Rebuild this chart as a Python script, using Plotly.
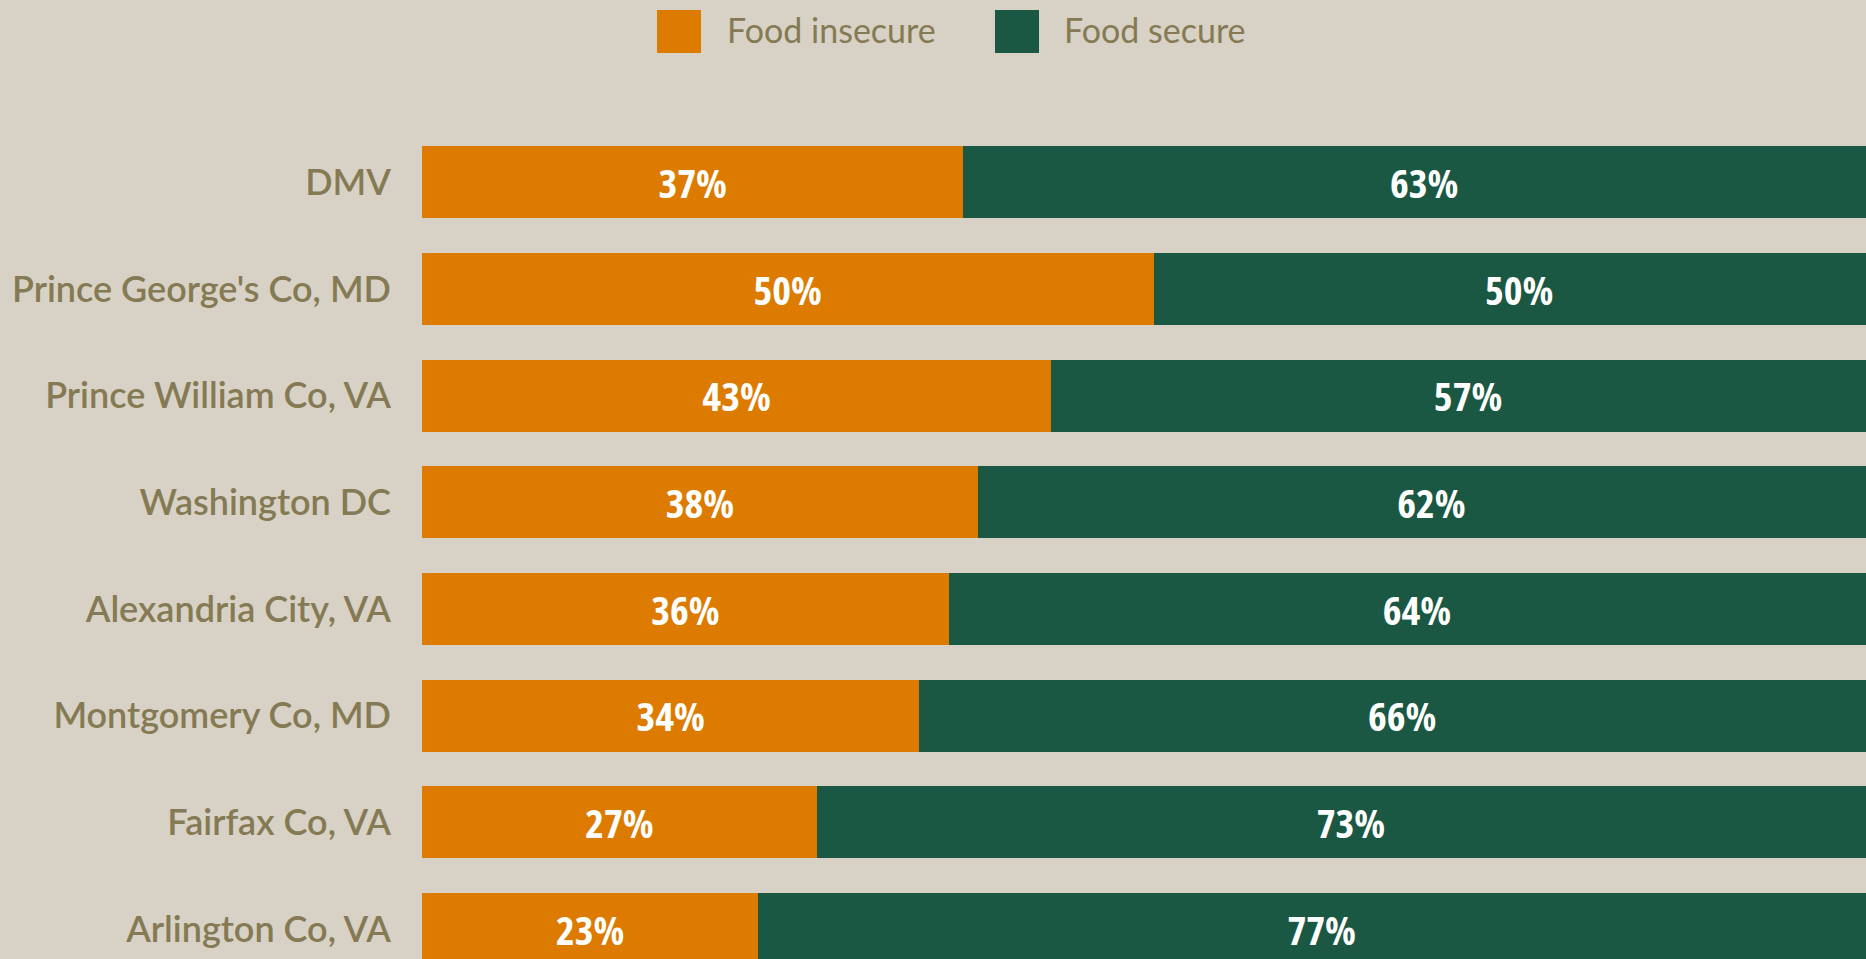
import plotly.graph_objects as go

regions = ["DMV", "Prince George's Co, MD", "Prince William Co, VA", "Washington DC",
           "Alexandria City, VA", "Montgomery Co, MD", "Fairfax Co, VA", "Arlington Co, VA"]
food_insecure = [37, 50, 43, 38, 36, 34, 27, 23]
food_secure = [63, 50, 57, 62, 64, 66, 73, 77]
series_names = ["Food insecure", "Food secure"]

ORANGE = "#DC7B00"
GREEN = "#1B5843"
BG = "#D7D2C5"
TXT = "#857A53"
LABEL_FONT = dict(family="Open Sans, DejaVu Sans Condensed, sans-serif",
                  size=40, color="white", weight="bold")

fig = go.Figure()
for name, vals, col in [(series_names[0], food_insecure, ORANGE), (series_names[1], food_secure, GREEN)]:
    fig.add_trace(go.Bar(
        y=regions, x=vals, name=name, orientation="h",
        marker=dict(color=col, line=dict(width=0)),
        text=[f"{v}%" for v in vals], textposition="inside",
        insidetextanchor="middle", textfont=LABEL_FONT,
        constraintext="none", cliponaxis=True, showlegend=False,
    ))

W, H = 1866, 959
L, T = 422, 129
pw, ph = W - L, H - T

def px_x(p):
    return (p - L) / pw

def px_y(p):
    return 1 + (T - p) / ph

# legend drawn as shapes + text
for (x0, x1, tx, col, name) in [(657, 701, 725, ORANGE, series_names[0]),
                                (995, 1039, 1062, GREEN, series_names[1])]:
    fig.add_shape(type="rect", xref="paper", yref="paper",
                  x0=px_x(x0), x1=px_x(x1), y0=px_y(53), y1=px_y(10),
                  fillcolor=col, line=dict(width=0))
    fig.add_annotation(xref="paper", yref="paper", x=px_x(tx), y=px_y(30),
                       xanchor="left", yanchor="middle", text=name, showarrow=False,
                       font=dict(family="Lato, Noto Sans, sans-serif", size=34, color=TXT))

fig.update_layout(
    barmode="stack", bargap=0.325,
    width=W, height=H,
    margin=dict(l=L, r=0, t=T, b=0, pad=0),
    paper_bgcolor=BG, plot_bgcolor=BG,
    xaxis=dict(range=[0, pw / 14.63], visible=False, showgrid=False, zeroline=False),
    yaxis=dict(range=[7.28, -0.5], showgrid=False, zeroline=False, showline=False,
               ticks="", ticklabelstandoff=30,
               tickfont=dict(family="Lato, Noto Sans, sans-serif", size=36, color=TXT, weight=600)),
    uniformtext=dict(mode=False),
)

post = """
document.querySelectorAll('.bartext').forEach(function(t){ t.style.fontStretch = 'condensed'; });
"""
fig.write_html("out.html", post_script=post)
